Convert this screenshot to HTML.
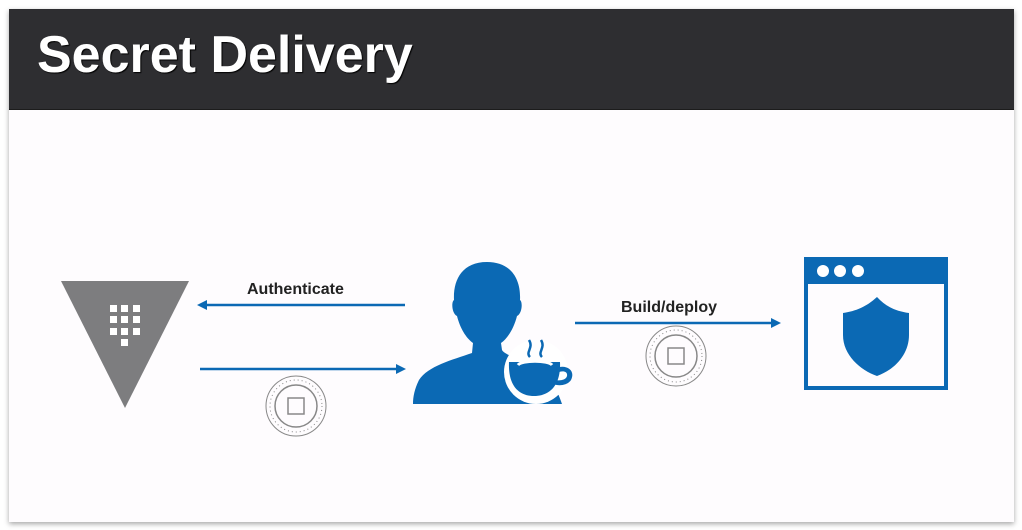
<!DOCTYPE html>
<html><head><style>
body{margin:0;width:1022px;height:530px;background:#fff;overflow:hidden;font-family:"Liberation Sans",sans-serif}
.frame{position:absolute;left:9px;top:9px;width:1005px;height:513px;background:#fefcfe;box-shadow:0 2px 5px rgba(0,0,0,.35)}
.hdr{position:absolute;left:0;top:0;width:1005px;height:100px;background:#2e2e31;border-bottom:1px solid #1c1c1c}
.hdr span{position:absolute;left:28px;top:16px;color:#fff;font-weight:bold;font-size:52px;letter-spacing:0px;text-shadow:1px 1px 1px #000}
.lbl{position:absolute;font-size:16px;color:#222;font-weight:bold}
</style></head><body>
<div class="frame"><div class="hdr"><span>Secret Delivery</span></div></div>
<div class="lbl" style="left:247px;top:281px">Authenticate</div>
<div class="lbl" style="left:621px;top:299px">Build/deploy</div>
<svg width="1022" height="530" style="position:absolute;left:0;top:0">
<polygon points="61,281 189,281 125,408" fill="#7d7d7f"/>
<g fill="#fff">
<rect x="110" y="305" width="7" height="7"/><rect x="121" y="305" width="7" height="7"/><rect x="133" y="305" width="7" height="7"/>
<rect x="110" y="316" width="7" height="7"/><rect x="121" y="316" width="7" height="7"/><rect x="133" y="316" width="7" height="7"/>
<rect x="110" y="328" width="7" height="7"/><rect x="121" y="328" width="7" height="7"/><rect x="133" y="328" width="7" height="7"/>
<rect x="121" y="339" width="7" height="7"/>
</g>
<g stroke="#0b69b4" stroke-width="2.5" fill="#0b69b4">
<line x1="405" y1="305" x2="205" y2="305"/><polygon points="197,305 207,300 207,310" stroke="none"/>
<line x1="200" y1="369" x2="397" y2="369"/><polygon points="406,369 396,364 396,374" stroke="none"/>
<line x1="575" y1="323" x2="772" y2="323"/><polygon points="781,323 771,318 771,328" stroke="none"/>
</g>
<g fill="none" stroke="#888">
<circle cx="296" cy="406" r="30"/><circle cx="296" cy="406" r="21" stroke-width="1.5"/>
<circle cx="296" cy="406" r="26" stroke-dasharray="1 3"/><rect x="288" y="398" width="16" height="16" stroke-width="1.5"/>
<circle cx="676" cy="356" r="30"/><circle cx="676" cy="356" r="21" stroke-width="1.5"/>
<circle cx="676" cy="356" r="26" stroke-dasharray="1 3"/><rect x="668" y="348" width="16" height="16" stroke-width="1.5"/>
</g>
<g fill="#0b69b4">
<path d="M487,262 C462,262 453,280 454,300 C451,302 452,314 457,316 C460,328 466,338 473,343 L472,353 C452,360 428,366 419,380 C415,388 413,396 413,404 L562,404 C558,392 552,380 545,372 L530,362 C515,358 504,354 502,350 L501,343 C508,338 514,328 517,316 C522,314 523,302 520,300 C521,280 512,262 487,262 Z"/>
</g>
<circle cx="536" cy="372" r="32" fill="#fff"/>
<g fill="#0b69b4">
<path d="M509,362 L560,362 C561,385 550,396 534,396 C518,396 508,385 509,362 Z"/>
<path d="M556,368 C566,364 576,370 571,380 C567,386 558,386 553,384 L555,380 C560,381 566,380 567,376 C568,371 562,370 557,373 Z"/>
</g>
<path d="M518,365 C522,360 548,360 552,365" stroke="#fff" stroke-width="3" fill="none"/>
<g stroke="#0b69b4" stroke-width="2.5" fill="none">
<path d="M530,357 C525,352 534,348 529,340"/><path d="M542,357 C537,352 546,348 541,340"/>
</g>
<rect x="806" y="259" width="140" height="129" fill="none" stroke="#0b69b4" stroke-width="4"/>
<rect x="806" y="259" width="140" height="25" fill="#0b69b4"/>
<g fill="#fff"><circle cx="823" cy="271" r="6"/><circle cx="840" cy="271" r="6"/><circle cx="858" cy="271" r="6"/></g>
<path d="M877,297 C866,307 856,311 843,313 L843,335 C843,355 860,370 877,376 C894,370 909,355 909,335 L909,313 C896,311 886,307 877,297 Z" fill="#0b69b4"/>
</svg>
</body></html>
